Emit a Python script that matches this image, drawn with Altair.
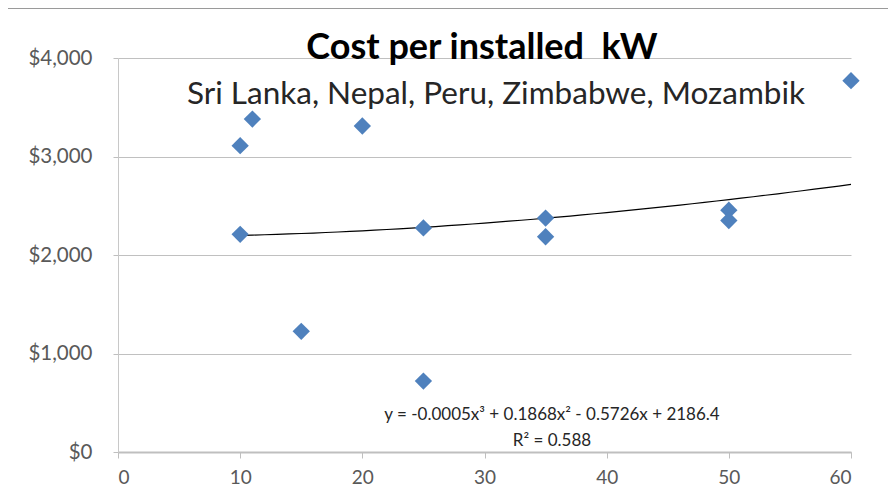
import altair as alt
import pandas as pd

# data
capacity_kw = [10, 10, 11, 15, 20, 25, 25, 35, 35, 50, 50, 60]
cost_per_kw = [3110, 2210, 3380, 1225, 3310, 2275, 720, 2375, 2185, 2455, 2350, 3770]

# trendline coefficients as printed on the chart (cubic, highest power first)
trend_coef = [-0.0005, 0.1868, -0.5726, 2186.4]
trend_range = [10, 60]

title_text = "Cost per installed\u00a0 kW"
subtitle_text = "Sri Lanka, Nepal, Peru, Zimbabwe, Mozambik"
equation_text = "y = -0.0005x³ + 0.1868x² - 0.5726x + 2186.4"
r2_text = "R² = 0.588"

FONT = "Lato"
W, H = 733, 394

pts = pd.DataFrame({"kw": capacity_kw, "cost": cost_per_kw})

xscale = alt.Scale(domain=[0, 60], nice=False)
yscale = alt.Scale(domain=[0, 4000], nice=False)

xaxis = alt.Axis(values=[0, 10, 20, 30, 40, 50, 60], grid=False, title=None,
                 labelFont=FONT, labelFontSize=19, labelColor="#595959",
                 labelPadding=10, tickSize=6, tickColor="#bfbfbf",
                 domainColor="#bfbfbf", domainWidth=2)
yaxis = alt.Axis(values=[0, 1000, 2000, 3000, 4000], format="$,d", title=None,
                 labelFont=FONT, labelFontSize=20.5, labelColor="#595959",
                 labelPadding=21, tickSize=5, tickColor="#bfbfbf",
                 domainColor="#c8c8c8", gridColor="#c0c0c0", gridWidth=1)

points = alt.Chart(pts).mark_point(shape="diamond", filled=True, size=300,
                                   color="#4f81bd", opacity=1).encode(
    x=alt.X("kw:Q", scale=xscale, axis=xaxis),
    y=alt.Y("cost:Q", scale=yscale, axis=yaxis),
)

a, b, c, d = trend_coef
trend = alt.Chart(alt.sequence(trend_range[0], trend_range[1] + 0.5, 1, as_="kw")).transform_calculate(
    cost=f"{a}*pow(datum.kw,3) + {b}*pow(datum.kw,2) + ({c})*datum.kw + {d}"
).mark_line(color="#000000", strokeWidth=1.2).encode(
    x=alt.X("kw:Q", scale=xscale),
    y=alt.Y("cost:Q", scale=yscale),
)

def label(txt, x, y, size, weight="normal", color="#262626", font=FONT):
    return alt.Chart(pd.DataFrame({"t": [txt]})).mark_text(
        font=font, fontSize=size, fontWeight=weight, color=color,
        align="center", baseline="alphabetic"
    ).encode(text="t:N", x=alt.value(x), y=alt.value(y))

title = label(title_text, 364, 1, 36, weight="bold", color="#000000")
subtitle = label(subtitle_text, 378, 46, 31.5, color="#262626")
eq = label(equation_text, 434, 362, 17, color="#262626")
r2 = label(r2_text, 434, 388, 17, color="#262626")

frame_top = alt.Chart(pd.DataFrame({"dummy": [0]})).mark_rule(
    color="#9a9a9a", strokeWidth=2
).encode(x=alt.value(-112), x2=alt.value(W + 40), y=alt.value(-50))

chart = alt.layer(frame_top, trend, points, title, subtitle, eq, r2).properties(
    width=W, height=H,
    padding={"left": 110, "top": 50, "right": 37, "bottom": 40},
    autosize=alt.AutoSizeParams(type="none"),
    background="white",
).configure_view(stroke=None)

chart.save("out.html", embed_options={"renderer": "svg", "actions": False})
